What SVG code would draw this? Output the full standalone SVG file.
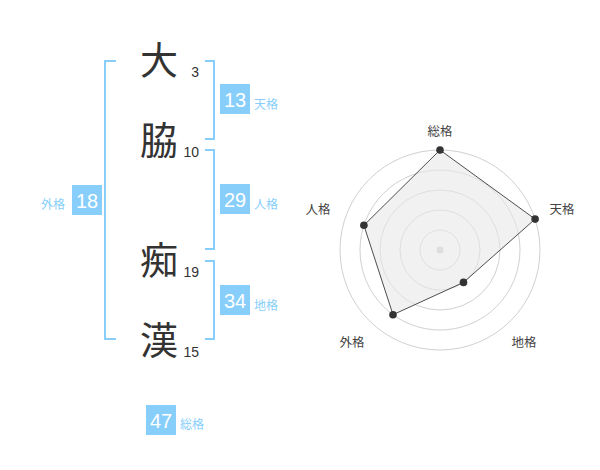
<svg xmlns="http://www.w3.org/2000/svg" width="600" height="470" viewBox="0 0 600 470">
<style>
.ch{font-family:"Noto Sans CJK JP","Noto Sans CJK SC",sans-serif;font-size:38px;fill:#333;text-anchor:middle}
.num{font-family:"Liberation Sans",Arial,sans-serif;font-size:14px;fill:#333;text-anchor:end}
.box{fill:#87cefa}
.bv{font-family:"Liberation Sans",Arial,sans-serif;font-size:20px;fill:#fff;text-anchor:middle}
.bl{font-family:"Noto Sans CJK JP","Noto Sans CJK SC",sans-serif;font-size:12px;fill:#87cefa}
.br{fill:none;stroke:#87cefa;stroke-width:2}
.ring{fill:none;stroke:#d0d0d0;stroke-width:1}
.rl{font-family:"Noto Sans CJK JP","Noto Sans CJK SC",sans-serif;font-size:12.5px;fill:#444;text-anchor:middle}
.dot{fill:#333}
</style>
<rect width="600" height="470" fill="#fff"/>
<g id="connectors">
<path class="br" d="M116,61 H105 V339 H116"/>
<path class="br" d="M205,61 H214 V139 H205"/>
<path class="br" d="M205,150 H214 V249 H205"/>
<path class="br" d="M205,261 H214 V339 H205"/>
</g>
<g id="char1"><text class="ch" x="159" y="74">大</text><text class="num" x="199" y="77">3</text></g>
<g id="char2"><text class="ch" x="159" y="154">脇</text><text class="num" x="199" y="157">10</text></g>
<g id="char3"><text class="ch" x="159" y="274">痴</text><text class="num" x="199" y="277">19</text></g>
<g id="char4"><text class="ch" x="159" y="354">漢</text><text class="num" x="199" y="357">15</text></g>
<g id="tenkaku"><rect class="box" x="220" y="84" width="30" height="30"/><text class="bv" x="235" y="107">13</text><text class="bl" x="254" y="109">天格</text></g>
<g id="jinkaku"><rect class="box" x="220" y="184" width="30" height="30"/><text class="bv" x="235" y="207">29</text><text class="bl" x="254" y="209">人格</text></g>
<g id="chikaku"><rect class="box" x="220" y="285" width="30" height="30"/><text class="bv" x="235" y="308">34</text><text class="bl" x="254" y="310">地格</text></g>
<g id="gaikaku"><rect class="box" x="72" y="185" width="30" height="30"/><text class="bv" x="87" y="208">18</text><text class="bl" x="41" y="209">外格</text></g>
<g id="soukaku"><rect class="box" x="146" y="405" width="30" height="30"/><text class="bv" x="161" y="428">47</text><text class="bl" x="180" y="429">総格</text></g>
<g id="radar">
<circle class="ring" cx="440" cy="250" r="20"/>
<circle class="ring" cx="440" cy="250" r="40"/>
<circle class="ring" cx="440" cy="250" r="60"/>
<circle class="ring" cx="440" cy="250" r="80"/>
<circle class="ring" cx="440" cy="250" r="100"/>
<circle cx="440" cy="250" r="3.5" fill="#ccc"/>
<polygon points="440,150 535.1,219.1 463.5,282.4 393,314.7 363.9,225.3" fill="#e8e8e8" fill-opacity="0.6" stroke="#222" stroke-width="0.8"/>
<circle class="dot" cx="440" cy="150" r="3.8"/>
<circle class="dot" cx="535.1" cy="219.1" r="3.8"/>
<circle class="dot" cx="463.5" cy="282.4" r="3.8"/>
<circle class="dot" cx="393" cy="314.7" r="3.8"/>
<circle class="dot" cx="363.9" cy="225.3" r="3.8"/>
<text class="rl" x="440" y="135.5">総格</text>
<text class="rl" x="562" y="213.5">天格</text>
<text class="rl" x="524" y="346.5">地格</text>
<text class="rl" x="352" y="346.5">外格</text>
<text class="rl" x="318" y="213.5">人格</text>
</g>
</svg>
